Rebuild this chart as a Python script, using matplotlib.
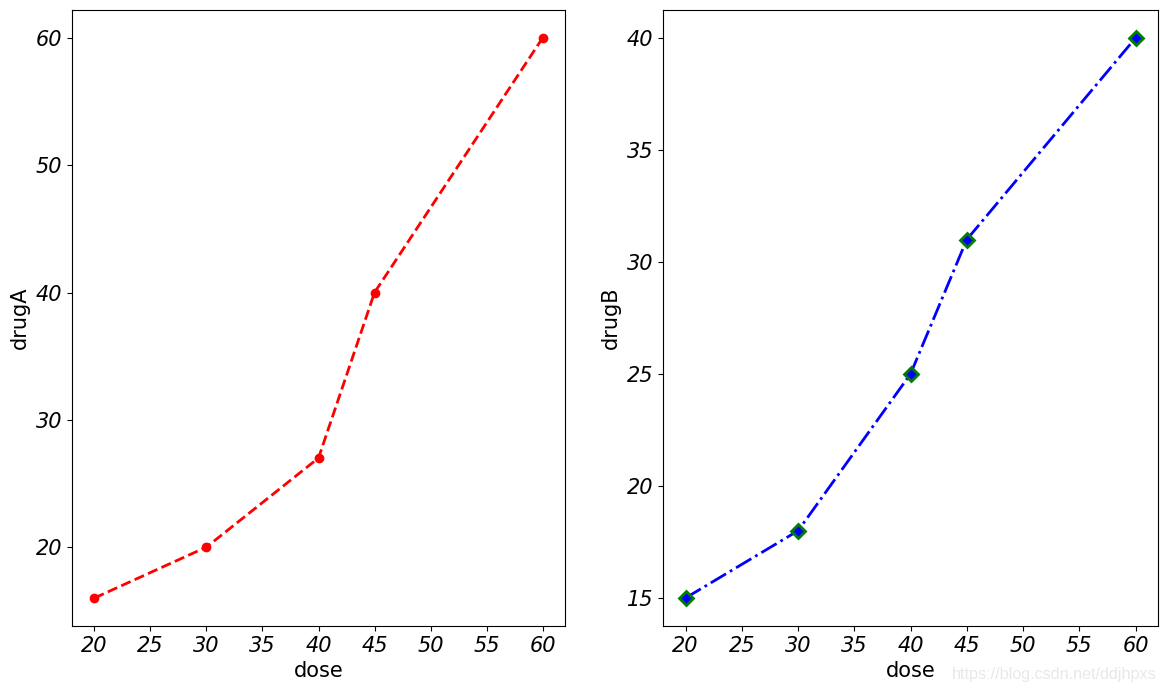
import matplotlib
matplotlib.use("Agg")
import matplotlib.pyplot as plt

dose = [20, 30, 40, 45, 60]
drugA = [16, 20, 27, 40, 60]
drugB = [15, 18, 25, 31, 40]

fig = plt.figure(figsize=(11.66, 6.91), dpi=100)

ax1 = fig.add_axes([72 / 1166, 1 - 626 / 691, 493 / 1166, 616 / 691])
ax1.plot(dose, drugA, color="red", linestyle="--", linewidth=2, marker="o", markersize=6)
ax1.set_xlabel("dose", fontsize=15)
ax1.set_ylabel("drugA", fontsize=15)

ax2 = fig.add_axes([663 / 1166, 1 - 626 / 691, 495 / 1166, 616 / 691])
ax2.plot(dose, drugB, color="blue", linestyle="-.", linewidth=2, marker="D",
         markersize=7.5, markerfacecolor="blue", markeredgecolor="green", markeredgewidth=2)
ax2.set_xlabel("dose", fontsize=15)
ax2.set_ylabel("drugB", fontsize=15)

for ax in (ax1, ax2):
    ax.set_xticks([20, 25, 30, 35, 40, 45, 50, 55, 60])
    ax.tick_params(labelsize=15)
    for lab in ax.get_xticklabels() + ax.get_yticklabels():
        lab.set_fontstyle("italic")

fig.text(1157 / 1166, 1 - 682 / 691, "https://blog.csdn.net/ddjhpxs", ha="right", va="bottom",
         fontsize=11.6, family="Liberation Sans", color="#e8e8e8")

fig.savefig("out.png", dpi=100)
